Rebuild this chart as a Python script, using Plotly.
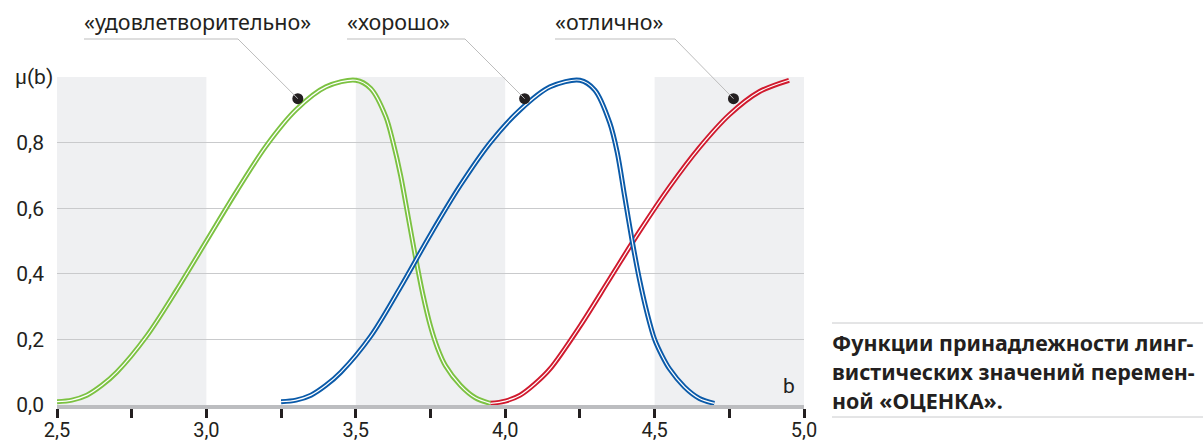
import plotly.graph_objects as go

# ---------------- data ----------------
green_x = [2.5, 2.55, 2.6, 2.65, 2.7, 2.8, 2.9, 3.0, 3.1, 3.2, 3.3, 3.4, 3.5,
           3.55, 3.6, 3.625, 3.65, 3.675, 3.7, 3.725, 3.75, 3.775, 3.8, 3.85, 3.9, 3.95]
green_y = [0.01, 0.015, 0.03, 0.06, 0.10, 0.21, 0.35, 0.50, 0.65, 0.79, 0.90, 0.97, 0.99,
           0.965, 0.88, 0.80, 0.70, 0.575, 0.45, 0.335, 0.24, 0.17, 0.12, 0.06, 0.022, 0.005]

blue_x = [3.25, 3.3, 3.35, 3.4, 3.45, 3.55, 3.65, 3.75, 3.85, 3.95, 4.05, 4.15, 4.25,
          4.3, 4.35, 4.375, 4.4, 4.425, 4.45, 4.475, 4.5, 4.525, 4.55, 4.6, 4.65, 4.7]
blue_y = [0.01, 0.015, 0.03, 0.06, 0.10, 0.21, 0.36, 0.52, 0.67, 0.80, 0.90, 0.97, 0.99,
          0.96, 0.86, 0.77, 0.635, 0.50, 0.38, 0.28, 0.20, 0.15, 0.11, 0.055, 0.02, 0.005]

red_x = [3.95, 4.0, 4.05, 4.1, 4.15, 4.25, 4.35, 4.45, 4.55, 4.65, 4.75, 4.85, 4.95]
red_y = [0.005, 0.012, 0.03, 0.065, 0.11, 0.24, 0.385, 0.53, 0.665, 0.785, 0.885, 0.955, 0.99]

series_names = ["«удовлетворительно»", "«хорошо»", "«отлично»"]
series_colors = ["#7cc242", "#0a5aa9", "#d01a2e"]
label_point_x = [3.306, 4.065, 4.764]
label_point_y = [0.934, 0.934, 0.934]

x_tick_vals = [2.5, 3.0, 3.5, 4.0, 4.5, 5.0]
x_tick_text = ["2,5", "3,0", "3,5", "4,0", "4,5", "5,0"]
y_tick_vals = [0.0, 0.2, 0.4, 0.6, 0.8, 1.0]
y_tick_text = ["0,0", "0,2", "0,4", "0,6", "0,8", ""]
y_axis_title = "μ(b)"
x_axis_title = "b"
shaded_bands = [(2.5, 3.0), (3.5, 4.0), (4.5, 5.0)]
caption_lines = ["Функции принадлежности линг-",
                 "вистических значений перемен-",
                 "ной «ОЦЕНКА»."]

# ---------------- layout geometry ----------------
W, H = 1203, 445
L, R, T, B = 57, 399, 77, 40
PW, PH = W - L - R, H - T - B


def px(xpix):
    return (xpix - L) / PW


def py(ypix):
    return (H - B - ypix) / PH


TEXT = "#231f20"
GRID = "#c9cacc"
FONT_NUM = "Roboto"
FONT_TXT = "Noto Sans"

fig = go.Figure()

for xs, ys, col in [(red_x, red_y, series_colors[2]),
                    (green_x, green_y, series_colors[0]),
                    (blue_x, blue_y, series_colors[1])]:
    fig.add_trace(go.Scatter(x=xs, y=ys, mode="lines",
                             line=dict(color=col, width=5, shape="spline", smoothing=0.9),
                             hoverinfo="skip", showlegend=False))
    fig.add_trace(go.Scatter(x=xs, y=ys, mode="lines",
                             line=dict(color="white", width=1.2, shape="spline", smoothing=0.9),
                             hoverinfo="skip", showlegend=False))

# label dots
fig.add_trace(go.Scatter(x=label_point_x, y=label_point_y, mode="markers",
                         marker=dict(color="#231f20", size=11),
                         hoverinfo="skip", showlegend=False, cliponaxis=False))

shapes = []
for x0, x1 in shaded_bands:
    shapes.append(dict(type="rect", xref="x", yref="y", x0=x0, x1=x1, y0=0, y1=1,
                       fillcolor="#eff0f2", line=dict(width=0), layer="below"))

annotations = []
label_left_px = [84, 347, 555]
underline_end_px = [238, 465, 675]
for i, name in enumerate(series_names):
    annotations.append(dict(xref="paper", yref="paper", x=px(label_left_px[i] - 2), y=py(22),
                            text=name, showarrow=False, xanchor="left", yanchor="middle",
                            font=dict(family=FONT_TXT, size=21.5, color=TEXT)))
    shapes.append(dict(type="line", xref="paper", yref="paper",
                       x0=px(label_left_px[i]), x1=px(underline_end_px[i]),
                       y0=py(39), y1=py(39), line=dict(color="#bdbdbd", width=1)))
    shapes.append(dict(type="line", xref="paper", yref="paper",
                       x0=px(underline_end_px[i]), y0=py(39),
                       x1=(label_point_x[i] - 2.5) / 2.5, y1=label_point_y[i],
                       line=dict(color="#bdbdbd", width=1)))

annotations.append(dict(xref="paper", yref="paper", x=px(13), y=1.0, text=y_axis_title,
                        showarrow=False, xanchor="left", yanchor="middle",
                        font=dict(family=FONT_NUM, size=21, color=TEXT)))
annotations.append(dict(xref="paper", yref="paper", x=px(797), y=py(386), text=x_axis_title,
                        showarrow=False, xanchor="right", yanchor="middle",
                        font=dict(family=FONT_NUM, size=21, color=TEXT)))

cap_y = [342, 371, 400]
for line, yy in zip(caption_lines, cap_y):
    annotations.append(dict(xref="paper", yref="paper", x=px(830), y=py(yy), text=line,
                            showarrow=False, xanchor="left", yanchor="middle",
                            font=dict(family=FONT_TXT, size=21.4, color=TEXT, weight="bold")))
shapes.append(dict(type="line", xref="paper", yref="paper", x0=px(832), x1=px(1203),
                   y0=py(323), y1=py(323), line=dict(color=GRID, width=1)))
shapes.append(dict(type="line", xref="paper", yref="paper", x0=px(832), x1=px(1203),
                   y0=py(417), y1=py(417), line=dict(color=GRID, width=1)))

fig.update_layout(
    width=W, height=H,
    margin=dict(l=L, r=R, t=T, b=B, pad=0, autoexpand=False),
    paper_bgcolor="white", plot_bgcolor="white",
    shapes=shapes, annotations=annotations,
    xaxis=dict(range=[2.5, 5.0], tickvals=x_tick_vals, ticktext=x_tick_text,
               showgrid=False, zeroline=False, automargin=False,
               showline=True, linecolor="#bcbdc0", linewidth=4,
               ticks="outside", ticklen=9, tickwidth=3, tickcolor="#231f20",
               minor=dict(dtick=0.25, tick0=2.5, ticks="outside", ticklen=9,
                          tickwidth=3, tickcolor="#231f20", showgrid=False),
               ticklabelstandoff=-5,
               tickfont=dict(family=FONT_NUM, size=20, color=TEXT),
               fixedrange=True),
    yaxis=dict(range=[0, 1], tickvals=y_tick_vals, ticktext=y_tick_text,
               showgrid=True, gridcolor=GRID, gridwidth=1, zeroline=False,
               showline=False, ticks="", ticklabelstandoff=12, automargin=False,
               tickfont=dict(family=FONT_NUM, size=21, color=TEXT),
               fixedrange=True),
)

fig.write_html("out.html", config={"displayModeBar": False},
               post_script="document.body.style.margin='0';document.body.style.overflow='hidden';")
